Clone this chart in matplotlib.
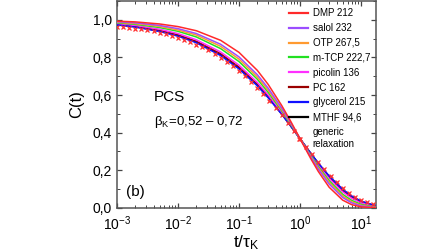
import matplotlib
matplotlib.use("Agg")
import matplotlib.pyplot as plt
from matplotlib.ticker import FixedLocator, FuncFormatter, MultipleLocator, LogLocator

plt.rcParams['font.family'] = ['Liberation Sans', 'DejaVu Sans']
plt.rcParams['mathtext.fontset'] = 'custom'
plt.rcParams['mathtext.rm'] = 'Liberation Sans'
plt.rcParams['mathtext.it'] = 'Liberation Sans'
plt.rcParams['mathtext.default'] = 'regular'

# shared time grid (t / tau_K)
t_curve = [1e-3, 2e-3, 5e-3, 1e-2, 2e-2, 5e-2, 0.1, 0.2, 0.3, 0.5, 0.7, 1.0,
           1.5, 2.0, 3.0, 5.0, 7.0, 10.0, 17.0]

names = ["DMP 212", "salol 232", "OTP 267,5", "m-TCP 222,7", "picolin 136",
         "PC 162", "glycerol 215", "MTHF 94,6"]
colors = ["#ff2a2a", "#9b4dff", "#ff9a30", "#22e022", "#ff30ff",
          "#9a0000", "#1010ff", "#000000"]

C_DMP = [0.993, 0.989, 0.978, 0.964, 0.942, 0.891, 0.827, 0.731, 0.657, 0.545,
         0.462, 0.368, 0.262, 0.193, 0.110, 0.0413, 0.0173, 0.0053, 0.0005]
C_salol = [0.990, 0.984, 0.970, 0.953, 0.927, 0.870, 0.803, 0.708, 0.637, 0.531,
           0.454, 0.368, 0.271, 0.206, 0.127, 0.0554, 0.0270, 0.0104, 0.0015]
C_OTP = [0.987, 0.980, 0.965, 0.946, 0.919, 0.859, 0.791, 0.696, 0.626, 0.524,
         0.450, 0.368, 0.275, 0.213, 0.136, 0.0635, 0.0331, 0.0140, 0.0026]
C_mTCP = [0.984, 0.976, 0.959, 0.939, 0.909, 0.847, 0.778, 0.684, 0.615, 0.517,
          0.446, 0.368, 0.279, 0.220, 0.145, 0.0723, 0.0402, 0.0187, 0.0042]
C_picolin = [0.979, 0.970, 0.950, 0.927, 0.894, 0.829, 0.759, 0.667, 0.601, 0.507,
             0.441, 0.368, 0.285, 0.229, 0.157, 0.0852, 0.0512, 0.0265, 0.0076]
C_PC = [0.976, 0.966, 0.944, 0.920, 0.886, 0.820, 0.749, 0.658, 0.593, 0.503,
        0.438, 0.368, 0.288, 0.234, 0.164, 0.0921, 0.0573, 0.0312, 0.0099]
C_glycerol = [0.973, 0.961, 0.938, 0.913, 0.878, 0.810, 0.739, 0.649, 0.586, 0.498,
              0.436, 0.368, 0.291, 0.238, 0.170, 0.0993, 0.0639, 0.0365, 0.0128]
C_MTHF = [0.975, 0.964, 0.941, 0.917, 0.882, 0.815, 0.744, 0.653, 0.590, 0.500,
          0.437, 0.368, 0.289, 0.236, 0.167, 0.0957, 0.0605, 0.0338, 0.0113]

# generic relaxation (markers)
t_generic = [10 ** (-3 + 0.1 * i) for i in range(43)]
C_generic = [0.963, 0.960, 0.957, 0.953, 0.949, 0.944, 0.939, 0.932, 0.924, 0.915,
             0.905, 0.894, 0.882, 0.868, 0.853, 0.837, 0.819, 0.799, 0.778, 0.754,
             0.729, 0.701, 0.672, 0.640, 0.606, 0.570, 0.532, 0.493, 0.452, 0.410,
             0.368, 0.326, 0.284, 0.243, 0.205, 0.169, 0.136, 0.107, 0.081, 0.060,
             0.042, 0.029, 0.019]

series = [C_DMP, C_salol, C_OTP, C_mTCP, C_picolin, C_PC, C_glycerol, C_MTHF]

fig = plt.figure(figsize=(4.48, 2.52), dpi=100)
ax = fig.add_axes([0.261, 0.175, 0.578, 0.821])

order = [7, 5, 4, 6, 3, 2, 1, 0]
handles = {}
for i in order:
    h, = ax.plot(t_curve, series[i], color=colors[i], lw=1.1, label=names[i], zorder=3)
    handles[i] = h
hg, = ax.plot(t_generic, C_generic, ls='none', marker='x', ms=3.0, mew=0.9,
              color='#ff3030', label='generic\nrelaxation', zorder=4)

ax.set_xscale('log')
ax.set_xlim(1e-3, 17.5)
ax.set_ylim(0, 1.1)

ax.yaxis.set_major_locator(FixedLocator([0, 0.2, 0.4, 0.6, 0.8, 1.0]))
ax.yaxis.set_minor_locator(MultipleLocator(0.1))
ax.yaxis.set_major_formatter(FuncFormatter(lambda v, p: f"{v:.1f}".replace('.', ',')))
ax.xaxis.set_major_locator(LogLocator(base=10, numticks=10))
ax.xaxis.set_minor_locator(LogLocator(base=10, subs=range(2, 10), numticks=20))

ax.tick_params(which='both', direction='in', top=True, right=True, colors='#444444',
               labelcolor='black', labelsize=10)
ax.tick_params(which='major', length=3.5, width=0.9)
ax.tick_params(which='minor', length=2, width=0.7)
ax.tick_params(axis='x', which='major', pad=5)
for s in ax.spines.values():
    s.set_color('#555555')
    s.set_linewidth(1.1)

ax.set_ylabel('C(t)', fontsize=12, labelpad=6)
ax.set_xlabel(r'$t/\tau_K$', fontsize=12.5, labelpad=0)

ax.text(0.143, 0.536, 'PCS', transform=ax.transAxes, fontsize=11, va='center')
ax.text(0.143, 0.415, r'$\beta_K$=0,52 – 0,72', transform=ax.transAxes,
        fontsize=9.5, va='center')
ax.text(0.035, 0.077, '(b)', transform=ax.transAxes, fontsize=11, va='center')

leg_h = [handles[i] for i in range(8)] + [hg]
leg = ax.legend(handles=leg_h, loc='upper left', bbox_to_anchor=(0.664, 0.965),
                frameon=False, fontsize=7.0, handlelength=2.0, handletextpad=0.45,
                labelspacing=0.5, borderaxespad=0.0, borderpad=0.0)
for line in leg.get_lines():
    line.set_linewidth(1.6)

fig.savefig('out.png', dpi=100)
